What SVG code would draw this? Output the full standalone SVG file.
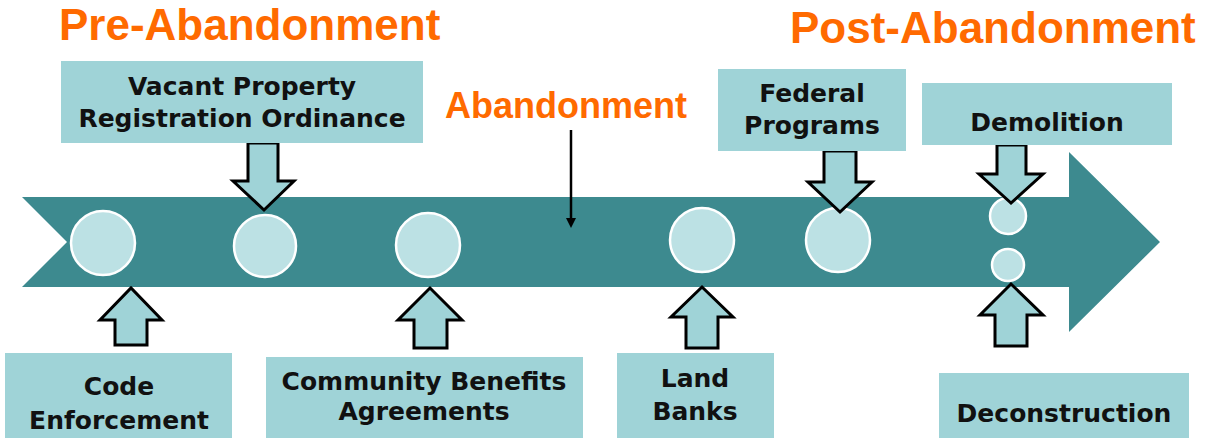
<svg xmlns="http://www.w3.org/2000/svg" width="1211" height="438" viewBox="0 0 1211 438">
<style>
.box{fill:#9fd3d7}
.lbl{font-family:"DejaVu Sans",Verdana,sans-serif;font-weight:bold;font-size:25px;fill:#111;text-anchor:middle}
.ttl{font-family:"Liberation Sans",Arial,sans-serif;font-weight:bold;fill:#ff6a00}
.dot{fill:#bce1e4;stroke:#fff;stroke-width:2.5}
.blk{fill:#9fd3d7;stroke:#000;stroke-width:3;stroke-linejoin:miter}
</style>
<rect width="1211" height="438" fill="#fff"/>
<g id="timeline">
<polygon points="22,197 1069,197 1069,152 1160,242 1069,332 1069,287 22,287 67,242" fill="#3d8a8f"/>
<circle class="dot" cx="103" cy="243" r="32"/>
<circle class="dot" cx="265" cy="246" r="31"/>
<circle class="dot" cx="428" cy="245" r="32"/>
<circle class="dot" cx="702" cy="240" r="32"/>
<circle class="dot" cx="838" cy="240" r="32"/>
<circle class="dot" cx="1008" cy="216" r="18"/>
<circle class="dot" cx="1008" cy="265" r="16"/>
</g>
<g id="titles">
<text class="ttl" x="59" y="40" font-size="44">Pre-Abandonment</text>
<text class="ttl" x="790" y="43" font-size="44">Post-Abandonment</text>
</g>
<g id="abandonment">
<text class="ttl" x="566" y="118" font-size="36" text-anchor="middle">Abandonment</text>
</g>
<g id="connectors">
<line x1="571" y1="130" x2="571" y2="219" stroke="#000" stroke-width="2.5"/>
<polygon points="566,218 576,218 571,228" fill="#000"/>
<!-- down arrows -->
<polygon class="blk" points="248,143 278,143 278,181 294,181 264,210 233,181 248,181"/>
<polygon class="blk" points="824,151 856,151 856,182 872,182 840,212 808,182 824,182"/>
<polygon class="blk" points="997,145 1026,145 1026,174 1043,174 1011,203 979,174 997,174"/>
<!-- up arrows -->
<polygon class="blk" points="115,345 147,345 147,320 162,320 131,288 100,320 115,320"/>
<polygon class="blk" points="414,348 447,348 447,320 462,320 430,288 398,320 414,320"/>
<polygon class="blk" points="686,348 718,348 718,317 733,317 702,287 671,317 686,317"/>
<polygon class="blk" points="995,346 1027,346 1027,315 1043,315 1011,284 980,315 995,315"/>
</g>
<g id="vacant">
<rect class="box" x="61" y="61" width="362" height="82"/>
<text class="lbl" x="242" y="95">Vacant Property</text>
<text class="lbl" x="242" y="127">Registration Ordinance</text>
</g>
<g id="federal">
<rect class="box" x="718" y="69" width="188" height="82"/>
<text class="lbl" x="812" y="102">Federal</text>
<text class="lbl" x="812" y="134">Programs</text>
</g>
<g id="demolition">
<rect class="box" x="922" y="83" width="250" height="62"/>
<text class="lbl" x="1047" y="131">Demolition</text>
</g>
<g id="code">
<rect class="box" x="5" y="353" width="227" height="85"/>
<text class="lbl" x="119" y="395">Code</text>
<text class="lbl" x="119" y="429">Enforcement</text>
</g>
<g id="community">
<rect class="box" x="266" y="357" width="317" height="81"/>
<text class="lbl" x="424" y="390">Community Benefits</text>
<text class="lbl" x="424" y="420">Agreements</text>
</g>
<g id="landbanks">
<rect class="box" x="617" y="353" width="157" height="85"/>
<text class="lbl" x="695" y="387">Land</text>
<text class="lbl" x="695" y="420">Banks</text>
</g>
<g id="deconstruction">
<rect class="box" x="939" y="373" width="250" height="65"/>
<text class="lbl" x="1064" y="422">Deconstruction</text>
</g>
</svg>
